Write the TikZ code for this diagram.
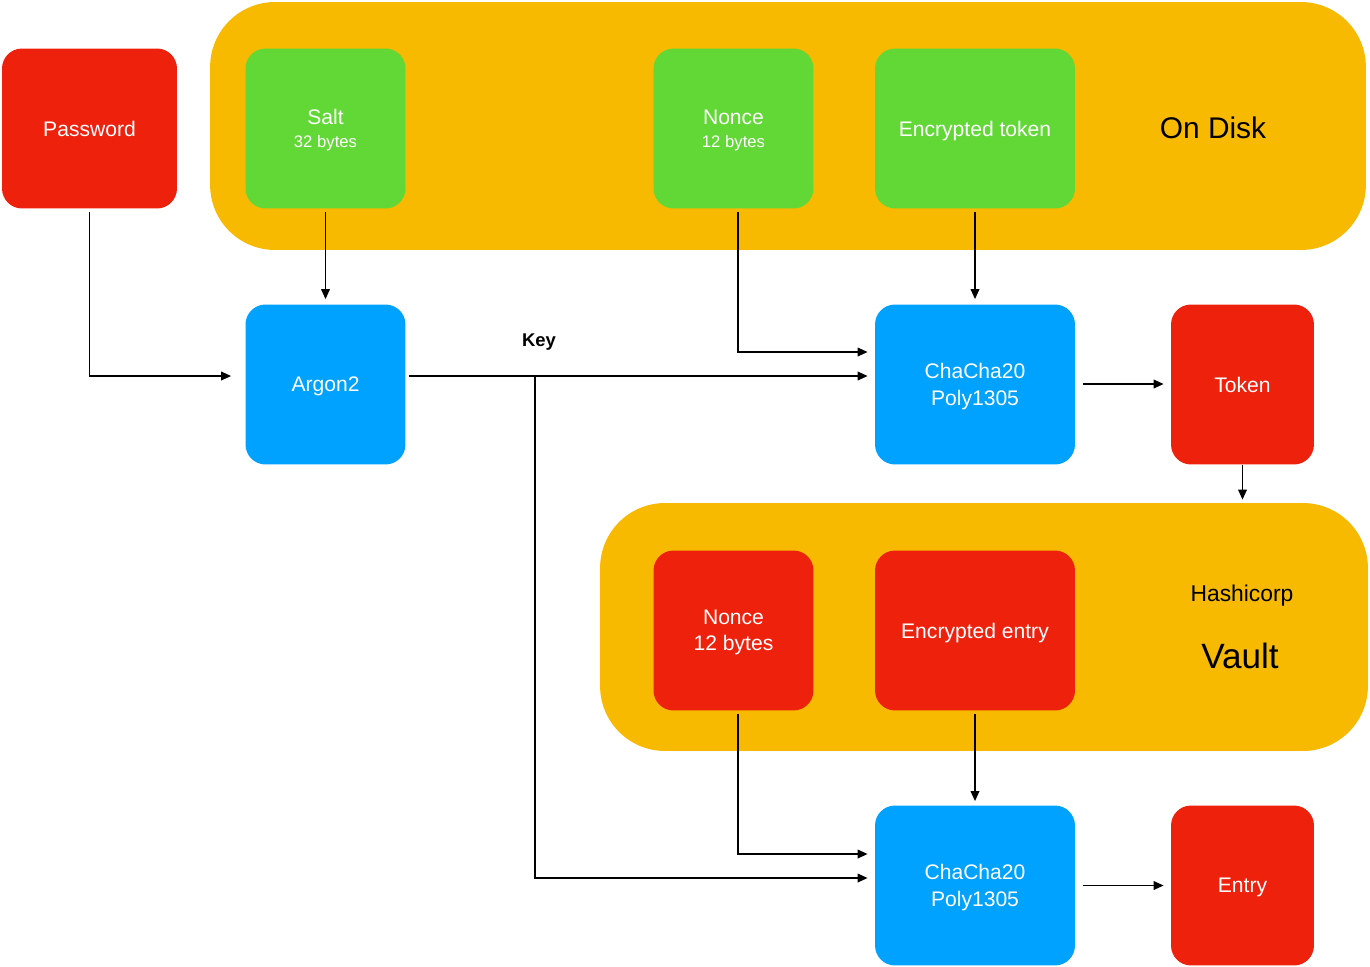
\documentclass[tikz,border=0pt]{standalone}
\usepackage{fontspec}
\setmainfont{Liberation Sans}
\usetikzlibrary{arrows.meta}

\definecolor{boxred}{HTML}{EE220C}
\definecolor{boxgreen}{HTML}{61D836}
\definecolor{boxblue}{HTML}{00A2FF}
\definecolor{store}{HTML}{F8BA00}
\newcommand{\sizenote}{\fontsize{9.5}{12}\selectfont}

\begin{document}
\begin{tikzpicture}[x=0.02cm, y=-0.02cm,
box/.style = {rounded corners=0.4cm, minimum width=3.2cm, minimum height=3.2cm,
    text=white, align=center, font=\fontsize{12}{15}\selectfont, inner sep=0pt,
    text depth=-2pt},
wide/.style = {box, minimum width=4cm},
narrow/.style = {box, minimum width=2.86cm},
secret/.style = {fill=boxred}, stored/.style = {fill=boxgreen}, cipher/.style = {fill=boxblue},
storage/.style = {fill=store, rounded corners=1.3cm, minimum height=4.96cm, inner sep=0pt},
link/.style = {-{Triangle[length=0.2cm, width=0.17cm]}, line width=1pt,
    shorten <=0.06cm, shorten >=0.14cm}]
\useasboundingbox (0,0) rectangle (1370,967);
% storage areas
\node[storage, minimum width=23.12cm] (disk) at (788,126) {};
\node[storage, minimum width=15.36cm] (vault) at (984,627) {};
\node[font=\fontsize{17}{20}\selectfont] (disklabel) at (1213,128) {On Disk};
\node[font=\fontsize{13}{16}\selectfont] (hashicorp) at (1242,596) {Hashicorp};
\node[font=\fontsize{20}{24}\selectfont] (vaultlabel) at (1240,656) {Vault};
% inputs
\node[box, secret, minimum width=3.5cm] (password) at (89.5,128.5) {Password};
\node[box, stored] (salt) at (325.5,128.5) {Salt\\[-2pt]{\sizenote 32 bytes}};
\node[box, stored] (nonce) at (733.5,128.5) {Nonce\\[-2pt]{\sizenote 12 bytes}};
\node[wide, stored] (enctoken) at (975,128.5) {Encrypted token};
\node[box, secret] (vnonce) at (733.5,630.5) {Nonce\\12 bytes};
\node[wide, secret] (encentry) at (975,630.5) {Encrypted entry};
% processing
\node[box, cipher] (argon) at (325.5,384.5) {Argon2};
\node[wide, cipher] (chachatoken) at (975,384.5) {ChaCha20\\Poly1305};
\node[wide, cipher] (chachaentry) at (975,885.5) {ChaCha20\\Poly1305};
\node[narrow, secret] (token) at (1242.5,384.5) {Token};
\node[narrow, secret] (entry) at (1242.5,885.5) {Entry};
\coordinate (keysplit) at (535,376);
\node[font=\fontsize{10.5}{12}\selectfont\bfseries] (keylabel) at (539,342) {Key};
% connectors
\draw[link, shorten >=0.28cm] (password.south) |- ([yshift=0.17cm]argon.west);
\draw[link, shorten >=0.1cm] (salt.south) -- (argon.north);
\draw[link] ([yshift=0.17cm]argon.east) -- ([yshift=0.17cm]chachatoken.west);
\draw[link, shorten <=0pt] (keysplit) |- ([yshift=0.15cm]chachaentry.west);
\draw[link] ([xshift=0.09cm]nonce.south) |- ([yshift=0.65cm]chachatoken.west);
\draw[link, shorten >=0.1cm] (enctoken.south) -- (chachatoken.north);
\draw[link, shorten <=0.16cm] ([yshift=0.01cm]chachatoken.east) -- ([yshift=0.01cm]token.west);
\draw[link, shorten <=0pt, shorten >=0.06cm] (token.south) -- (token.south |- vault.north);
\draw[link] ([xshift=0.09cm]vnonce.south) |- ([yshift=0.63cm]chachaentry.west);
\draw[link, shorten >=0.08cm] (encentry.south) -- (chachaentry.north);
\draw[link, shorten <=0.16cm] (chachaentry.east) -- (entry.west);
\end{tikzpicture}
\end{document}
